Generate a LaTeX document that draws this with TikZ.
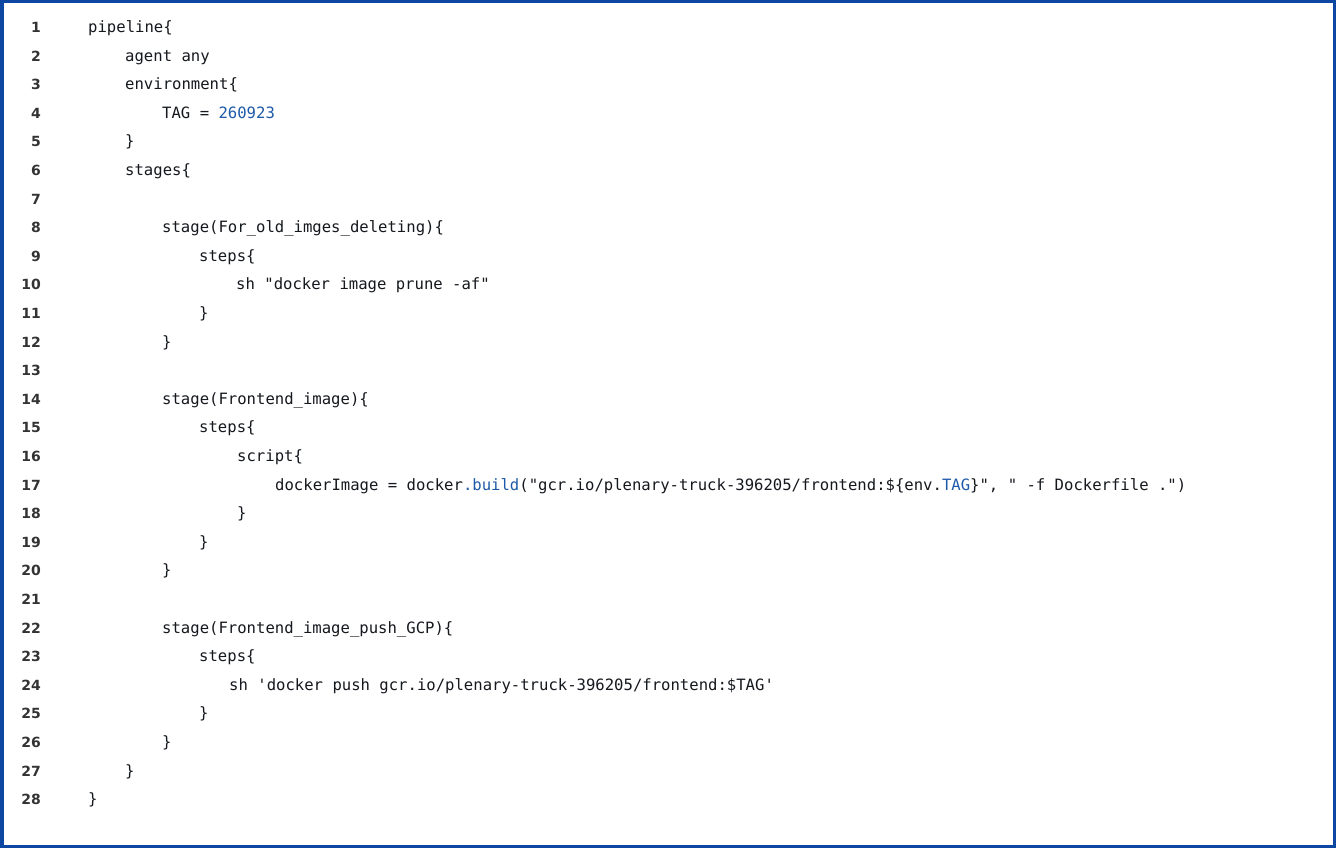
\documentclass[tikz,border=0pt]{standalone}
\usepackage{fontspec}
\setmonofont{DejaVu Sans Mono}
\setsansfont{DejaVu Sans}
\definecolor{frame}{HTML}{0D47A1}
\definecolor{code}{HTML}{15181D}
\definecolor{kw}{HTML}{1E5AA8}
\definecolor{num}{HTML}{333333}
\begin{document}
\begin{tikzpicture}[x=1pt,y=-1pt,
  ln/.style={anchor=base east,font=\sffamily\fontsize{14}{14}\selectfont\bfseries,text=num,inner sep=0},
  cl/.style={anchor=base west,font=\ttfamily\fontsize{15.6}{15}\selectfont,text=code,inner sep=0}]
\fill[white] (0,0) rectangle (1336,848);
\useasboundingbox (0,0) rectangle (1336,848);
\draw[frame,line width=3.5] (1.75,1.75) rectangle (1334.25,846.25);
\foreach \i in {1,...,28} {\node[ln] (n\i) at (41,{27+28.6*(\i-1)+5.5}) {\i};}
\newcommand{\cln}[3]{\node[cl] (c#1) at (#2,{27+28.6*(#1-1)+5.5}) {#3};}
\cln{1}{88}{pipeline\{}
\cln{2}{125}{agent any}
\cln{3}{125}{environment\{}
\cln{4}{162}{TAG = \textcolor{kw}{260923}}
\cln{5}{125}{\}}
\cln{6}{125}{stages\{}
\cln{8}{162}{stage(For\_old\_imges\_deleting)\{}
\cln{9}{199}{steps\{}
\cln{10}{236}{sh "docker image prune -af"}
\cln{11}{199}{\}}
\cln{12}{162}{\}}
\cln{14}{162}{stage(Frontend\_image)\{}
\cln{15}{199}{steps\{}
\cln{16}{237}{script\{}
\cln{17}{275}{dockerImage = docker\textcolor{kw}{.build}("gcr.io/plenary-truck-396205/frontend:\$\{env.\textcolor{kw}{TAG}\}", " -f Dockerfile .")}
\cln{18}{237}{\}}
\cln{19}{199}{\}}
\cln{20}{162}{\}}
\cln{22}{162}{stage(Frontend\_image\_push\_GCP)\{}
\cln{23}{199}{steps\{}
\cln{24}{229}{sh 'docker push gcr.io/plenary-truck-396205/frontend:\$TAG'}
\cln{25}{199}{\}}
\cln{26}{162}{\}}
\cln{27}{125}{\}}
\cln{28}{88}{\}}
\end{tikzpicture}
\end{document}
